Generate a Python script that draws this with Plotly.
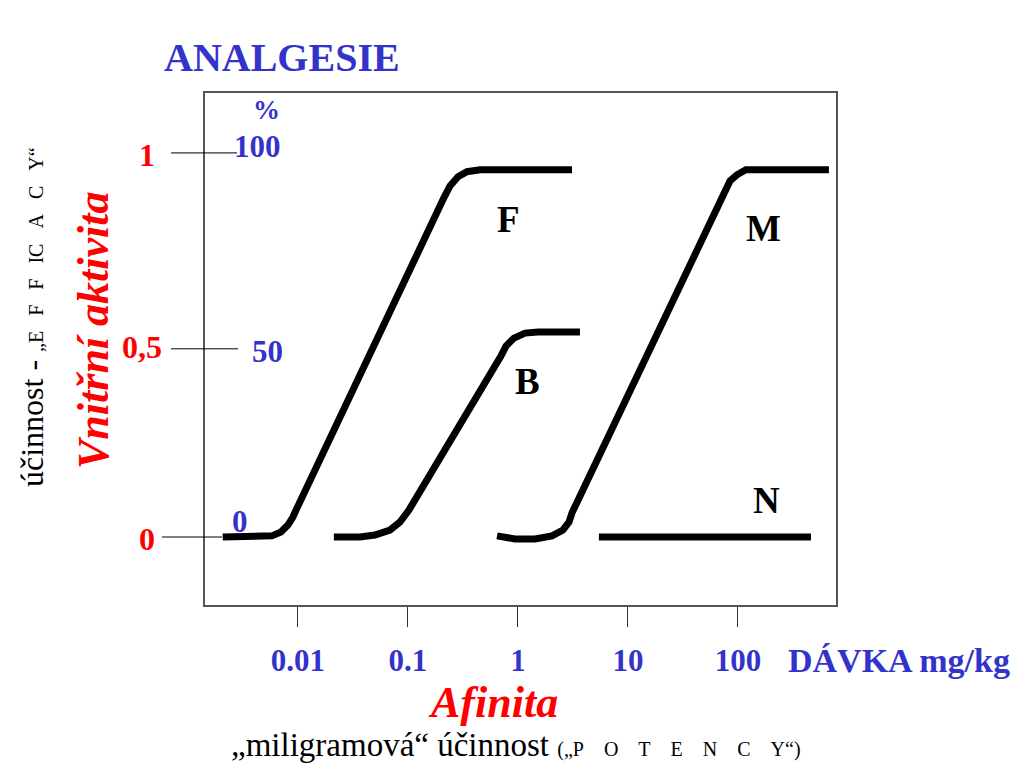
import plotly.graph_objects as go

# ---- data (dose in mg/kg, intrinsic activity in %) ----
F_dose = [0.00207, 0.00507, 0.0058, 0.0070, 0.0081, 0.0090, 0.0096, 0.212, 0.241, 0.285, 0.344, 0.452, 3.10]
F_pct = [0, 0, 0.3, 1.3, 3.1, 5.2, 7.0, 88.3, 91.4, 93.8, 95.1, 95.6, 95.6]

B_dose = [0.0212, 0.0366, 0.0501, 0.0686, 0.0846, 0.0959, 0.102, 0.700, 0.778, 0.920, 1.16, 1.52, 3.66]
B_pct = [0, 0, 0.5, 1.8, 3.9, 5.7, 7.0, 47.1, 49.7, 51.8, 53.1, 53.4, 53.4]

M_dose = [0.645, 0.939, 1.43, 2.04, 2.56, 2.91, 3.10, 76.2, 84.6, 97.9, 118, 671]
M_pct = [0.3, -0.5, -0.5, 0.3, 1.8, 3.9, 6.3, 90.4, 92.7, 94.3, 95.6, 95.6]

N_dose = [5.44, 461]
N_pct = [0, 0]

x_tick_vals = [0.01, 0.1, 1, 10, 100]
x_tick_text = ["0.01", "0.1", "1", "10", "100"]

left_red_labels = ["1", "0,5", "0"]
left_blue_labels = ["100", "50", "0"]
curve_names = ["F", "B", "M", "N"]

SERIF = "Times New Roman, Liberation Serif, serif"
BLUE = "#3333CC"
RED = "#FF0000"

fig = go.Figure()
for xs, ys in [(F_dose, F_pct), (B_dose, B_pct), (M_dose, M_pct), (N_dose, N_pct)]:
    fig.add_trace(go.Scatter(x=xs, y=ys, mode="lines",
                             line=dict(color="black", width=7),
                             hoverinfo="skip", showlegend=False))

W0, W = 205, 631   # plot area left / width (px, page coords)
B0, H = 605, 512   # plot area bottom / height (px, page coords)


def px(x):
    return (x - W0) / W


def py(y):
    return (B0 - y) / H


ann = []


def add(text, x, y, size, color, bold=True, italic=False, angle=0, xanchor="center"):
    t = text
    if bold:
        t = "<b>" + t + "</b>"
    if italic:
        t = "<i>" + t + "</i>"
    ann.append(dict(text=t, x=px(x), y=py(y), xref="paper", yref="paper",
                    showarrow=False, textangle=angle, xanchor=xanchor, yanchor="middle",
                    font=dict(family=SERIF, size=size, color=color)))


add("ANALGESIE", 282, 57, 40, BLUE)
# left labels
for lab, (x, y) in zip(left_red_labels, [(147, 155), (142, 347), (147, 539)]):
    add(lab, x, y, 32, RED)
for lab, (x, y) in zip(left_blue_labels, [(257, 146), (267, 351), (240, 521)]):
    add(lab, x, y, 31, BLUE)
add("%", 266, 110, 27, BLUE)
# curve labels
for lab, (x, y) in zip(curve_names, [(508, 219), (527, 381), (763, 228), (766, 500)]):
    add(lab, x, y, 37, "black")

add("DÁVKA mg/kg", 899, 660, 34, BLUE)
add("Afinita", 493, 702, 44, RED, italic=True)
nb3 = "\u00a0" * 3
nb4 = "\u00a0" * 4
add("„miligramová“ účinnost <span style='font-size:20px'>(„P" + nb4 + "O" + nb4 + "T" + nb4 + "E" + nb4 + "N" + nb4 + "C" + nb4 + "Y“)</span>",
    516, 745, 33, "black", bold=False)
add("Vnitřní aktivita", 93, 330, 44, RED, italic=True, angle=-90)
add("účinnost - <span style='font-size:20px'>„E" + nb3 + "F" + nb3 + "F" + nb3 + "IC" + nb3 + "A" + nb3 + "C" + nb3 + "Y“</span>",
    32, 317, 32, "black", bold=False, angle=-90)

shapes = []
for yv, x0, x1 in [(100, 171, 237), (49, 171, 238), (0, 162, 222)]:
    shapes.append(dict(type="line", xref="paper", yref="y", x0=px(x0), x1=px(x1), y0=yv, y1=yv,
                       line=dict(color="black", width=1)))

# page body adds an 8px offset, so the figure is drawn 8px smaller/shifted
fig.update_layout(
    width=1016, height=760,
    margin=dict(l=197, r=188, t=85, b=163),
    paper_bgcolor="white", plot_bgcolor="white",
    showlegend=False,
    annotations=ann, shapes=shapes,
    xaxis=dict(type="log", range=[-2.845, 2.891], tickvals=x_tick_vals, ticktext=x_tick_text,
               ticks="outside", ticklen=20, tickwidth=1, tickcolor="#333",
               showline=True, mirror=True, linecolor="#555", linewidth=1.5,
               showgrid=False, zeroline=False, ticklabelstandoff=7,
               tickfont=dict(family=SERIF, size=31, color=BLUE, weight="bold")),
    yaxis=dict(range=[-17.7, 115.6], showline=True, mirror=True, linecolor="#555", linewidth=1.5,
               showgrid=False, zeroline=False, showticklabels=False, ticks=""),
)

fig.write_html("out.html")
